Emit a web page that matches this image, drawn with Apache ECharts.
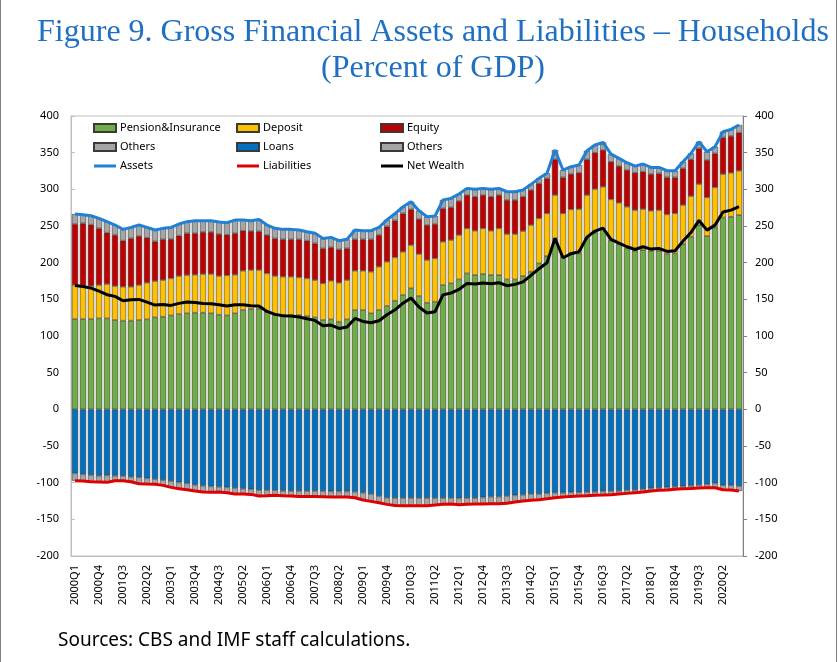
<!DOCTYPE html>
<html>
<head>
<meta charset="utf-8">
<title>Figure 9. Gross Financial Assets and Liabilities – Households</title>
<script src="https://cdn.jsdelivr.net/npm/echarts@6/dist/echarts.min.js"></script>
<style>
  html, body { margin: 0; padding: 0; background: #fff; }
  #chart { width: 839px; height: 662px; }
</style>
</head>
<body>
<div id="chart"></div>
<script>
// Quarters 2000Q1 .. 2020Q4
const quarters = [];
for (let y = 2000; y <= 2020; y++) {
  for (let q = 1; q <= 4; q++) quarters.push(y + 'Q' + q);
}

// Assets (percent of GDP)
const pension = [123.1,123.1,123.1,124.0,124.0,121.8,120.9,120.9,121.8,122.7,
  125.4,126.3,128.1,129.9,130.9,131.8,131.8,130.9,129.0,128.1,
  130.9,135.4,136.8,137.2,133.1,128.6,128.6,128.6,128.6,127.2,
  125.4,121.8,122.7,119.5,122.7,135.4,135.4,130.9,135.4,140.9,
  148.1,155.9,165.0,154.5,145.4,146.8,169.5,171.8,177.2,185.4,
  183.1,184.5,183.1,183.1,177.2,177.2,181.8,187.7,199.1,209.0,
  233.1,208.1,213.6,212.6,233.1,240.8,245.4,229.9,224.9,219.5,
  216.3,217.2,216.3,216.3,211.7,212.6,225.4,235.4,251.3,236.3,
  248.1,261.7,262.6,264.9];
const deposit = [46.4,45.0,45.0,45.5,46.9,46.3,46.3,46.3,47.7,50.0,
  49.5,50.0,50.5,51.9,52.2,51.8,52.7,53.6,52.8,54.6,
  52.7,53.6,53.2,52.8,52.3,53.2,52.3,52.3,51.3,51.4,
  50.9,50.0,52.7,53.2,53.6,53.6,53.6,56.8,59.1,60.4,
  59.1,59.0,59.0,57.3,58.2,59.1,59.1,59.1,60.5,61.4,
  60.5,62.3,60.5,63.7,61.8,61.8,61.3,63.6,61.3,58.2,
  59.1,59.1,59.1,60.5,59.1,59.6,58.2,56.4,56.8,56.8,
  55.4,55.9,54.5,55.4,54.1,54.6,53.2,55.4,55.9,52.7,
  54.5,59.1,60.0,60.5];
const equity = [83.2,85.5,83.7,77.3,70.0,69.6,62.8,65.9,66.8,61.3,
  54.1,55.5,53.6,55.0,56.9,56.4,57.3,57.3,57.2,55.4,
  56.4,54.6,53.1,52.7,52.3,51.3,50.9,50.9,51.9,51.4,
  50.0,47.7,45.5,45.4,43.2,42.8,42.8,44.1,43.2,48.1,
  50.4,52.2,48.7,47.7,47.7,46.8,45.4,44.5,46.3,45.4,
  46.4,45.4,46.4,45.4,46.4,46.4,46.9,47.7,47.7,47.7,
  48.7,49.1,48.2,49.5,48.6,49.5,50.0,51.3,50.0,50.0,
  50.9,50.9,50.0,50.0,50.5,49.1,50.0,50.0,48.6,50.9,
  46.4,50.0,50.0,51.8];
const assetOthers = [13.6,11.8,12.2,13.6,15.0,13.6,15.4,15.0,15.0,14.1,
  15.5,15.0,15.9,15.9,15.9,17.2,15.4,15.4,16.4,16.4,
  18.1,14.5,14.1,16.3,13.6,13.7,13.6,13.6,12.7,12.2,
  13.7,13.6,13.6,11.8,12.3,12.7,11.8,11.8,10.4,9.1,
  9.1,9.1,10.4,11.4,11.4,10.9,11.4,12.3,9.6,9.1,
  10.0,9.1,10.0,9.1,11.4,11.4,9.0,7.8,6.9,6.9,
  12.7,10.0,10.0,10.5,11.8,10.5,10.4,10.5,10.5,10.0,
  9.1,10.5,9.1,8.2,9.1,9.1,9.0,8.2,9.1,11.4,
  9.1,7.8,9.1,10.5];

// Liabilities (shown below zero)
const loans = [-87.3,-88.7,-89.6,-90.5,-90.0,-90.5,-90.9,-91.9,-92.8,-94.1,
  -95.1,-96.4,-97.8,-99.6,-101.0,-102.8,-104.1,-105.1,-105.5,-106.4,
  -107.3,-108.2,-109.1,-110.1,-110.1,-110.5,-111.0,-111.4,-111.4,-111.4,
  -111.4,-111.4,-111.9,-111.9,-111.9,-112.3,-113.7,-115.5,-118.2,-120.5,
  -121.0,-121.0,-121.0,-121.0,-121.0,-121.0,-121.0,-121.0,-121.4,-121.0,
  -121.0,-120.1,-119.1,-119.1,-118.2,-117.3,-116.4,-115.5,-115.5,-114.6,
  -113.7,-113.7,-113.2,-113.2,-112.8,-112.3,-111.9,-111.4,-111.0,-110.1,
  -109.6,-108.7,-107.8,-107.3,-106.4,-105.5,-105.1,-104.1,-103.2,-102.3,
  -101.0,-103.7,-103.7,-104.6];
const liabOthers = [-10.0,-9.1,-9.1,-8.6,-9.6,-6.8,-6.4,-6.8,-8.6,-7.8,
  -7.2,-7.3,-8.6,-8.6,-8.6,-8.6,-8.7,-8.1,-7.3,-7.3,
  -8.2,-7.3,-6.9,-8.1,-7.7,-6.8,-6.8,-6.8,-7.3,-7.3,
  -7.3,-7.7,-7.7,-7.7,-7.7,-8.2,-10.0,-10.0,-9.1,-9.1,
  -10.0,-10.4,-10.4,-10.4,-10.4,-9.5,-8.3,-8.1,-8.7,-8.6,
  -8.1,-9.0,-9.6,-9.6,-10.0,-9.1,-8.7,-8.6,-7.7,-7.3,
  -6.8,-5.9,-5.5,-5.0,-5.0,-5.0,-5.0,-5.0,-4.5,-4.5,
  -4.1,-4.1,-3.6,-3.2,-3.7,-3.6,-3.1,-3.7,-4.1,-4.6,
  -5.9,-5.9,-6.4,-6.8];

// Totals: assets, liabilities and net wealth follow from the components
const round1 = v => Math.round(v * 10) / 10;
const assets = quarters.map((_, i) => round1(pension[i] + deposit[i] + equity[i] + assetOthers[i]));
const liabilities = quarters.map((_, i) => round1(loans[i] + liabOthers[i]));
const netWealth = quarters.map((_, i) => round1(assets[i] + liabilities[i]));

const FONT = '"Noto Sans", "Open Sans", sans-serif';
const BAR_BORDER = '#3a3a3a';
// thin horizontal bar used as legend icon for the line series
const LINE_ICON = 'path://M0,0 L22,0 L22,3 L0,3 Z';

function barSeries(name, data, color) {
  return {
    name: name,
    type: 'bar',
    stack: 'total',
    data: data,
    barCategoryGap: '22%',
    itemStyle: { color: color, borderColor: BAR_BORDER, borderWidth: 0.6 },
    emphasis: { disabled: true }
  };
}

function lineSeries(name, data, color) {
  return {
    name: name,
    type: 'line',
    data: data,
    symbol: 'none',
    z: 5,
    lineStyle: { color: color, width: 3 },
    itemStyle: { color: color },
    emphasis: { disabled: true }
  };
}

// one legend per column: [bar, bar, line]
function legendColumn(left, names) {
  return {
    orient: 'vertical',
    left: left,
    top: 121,
    itemWidth: 22,
    itemHeight: 8,
    itemGap: 5,
    padding: 0,
    selectedMode: false,
    data: [
      { name: names[0], icon: 'rect' },
      { name: names[1], icon: 'rect' },
      { name: names[2], icon: LINE_ICON, itemStyle: { borderWidth: 0 } }
    ],
    formatter: name => name.replace(' (liabilities)', ''),
    textStyle: { fontFamily: FONT, fontSize: 11, color: '#000', lineHeight: 14, padding: [0, 0, 0, -1] }
  };
}

function valueAxis(position) {
  const right = position === 'right';
  return {
    type: 'value',
    position: position,
    min: -200,
    max: 400,
    interval: 50,
    splitLine: { show: false },
    axisLine: { show: true, lineStyle: { color: right ? '#808080' : '#bfbfbf' } },
    axisTick: { show: true, inside: !right, length: 4, lineStyle: { color: right ? '#808080' : '#bfbfbf' } },
    axisLabel: { fontFamily: FONT, fontSize: 11, color: '#000', margin: 12 }
  };
}

const chart = echarts.init(document.getElementById('chart'), null, { renderer: 'canvas' });

const option = {
  backgroundColor: '#fff',
  animation: false,
  grid: {
    left: 71, top: 116, width: 672, height: 440,
    show: true, borderColor: '#bfbfbf', borderWidth: 1
  },
  legend: [
    legendColumn(93, ['Pension&Insurance', 'Others', 'Assets']),
    legendColumn(236, ['Deposit', 'Loans', 'Liabilities']),
    legendColumn(380, ['Equity', 'Others (liabilities)', 'Net Wealth'])
  ],
  xAxis: {
    type: 'category',
    data: quarters,
    axisLine: { onZero: false, lineStyle: { color: '#bfbfbf' } },
    axisTick: { show: false },
    axisLabel: { interval: 2, rotate: 90, fontFamily: FONT, fontSize: 11, color: '#000', margin: 9 }
  },
  yAxis: [valueAxis('left'), valueAxis('right')],
  series: [
    barSeries('Pension&Insurance', pension, '#70ad47'),
    barSeries('Deposit', deposit, '#ffc000'),
    barSeries('Equity', equity, '#c00000'),
    barSeries('Others', assetOthers, '#a5a5a5'),
    barSeries('Loans', loans, '#0070c0'),
    barSeries('Others (liabilities)', liabOthers, '#a5a5a5'),
    lineSeries('Assets', assets, '#1f80d6'),
    lineSeries('Liabilities', liabilities, '#e00000'),
    lineSeries('Net Wealth', netWealth, '#000000')
  ],
  graphic: [
    // frame lines on the left and right
    { type: 'line', shape: { x1: 0.5, y1: 0, x2: 0.5, y2: 662 }, style: { stroke: '#808080', lineWidth: 1 } },
    { type: 'line', shape: { x1: 836.5, y1: 0, x2: 836.5, y2: 662 }, style: { stroke: '#808080', lineWidth: 1 } },
    {
      type: 'text', x: 433, y: 33,
      style: {
        text: 'Figure 9. Gross Financial Assets and Liabilities – Households',
        font: '32px "Liberation Serif", "DejaVu Serif", serif',
        fill: '#1f6fc2', align: 'center', verticalAlign: 'middle'
      }
    },
    {
      type: 'text', x: 433, y: 69,
      style: {
        text: '(Percent of GDP)',
        font: '32px "Liberation Serif", "DejaVu Serif", serif',
        fill: '#1f6fc2', align: 'center', verticalAlign: 'middle'
      }
    },
    {
      type: 'text', x: 58, y: 641,
      style: {
        text: 'Sources: CBS and IMF staff calculations.',
        font: '19px "Noto Sans", "Open Sans", sans-serif',
        fill: '#000', align: 'left', verticalAlign: 'middle'
      }
    }
  ]
};

chart.setOption(option);

window.addEventListener('resize', () => chart.resize());
</script>
</body>
</html>
